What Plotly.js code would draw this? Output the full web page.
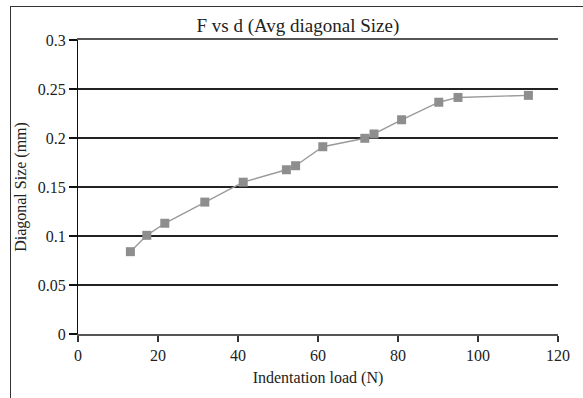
<!DOCTYPE html>
<html>
<head>
<meta charset="utf-8">
<script src="https://cdn.plot.ly/plotly-3.0.1.min.js"></script>
<style>
html,body{margin:0;padding:0;background:#fff;overflow:hidden;}
#wrap{position:relative;width:583px;height:398px;}
#frame{position:absolute;left:10px;top:6px;width:600px;height:420px;border-left:1px solid #333;border-top:1px solid #333;pointer-events:none;z-index:5;}
#chart{position:absolute;left:0;top:0;width:583px;height:398px;}
</style>
</head>
<body>
<div id="wrap"><div id="chart"></div><div id="frame"></div></div>
<script>
const loadN = [13.1, 17.2, 21.7, 31.7, 41.3, 52.1, 54.4, 61.2, 71.7, 74.0, 80.9, 90.2, 95.0, 112.6];
const diagMM = [0.084, 0.1007, 0.113, 0.1346, 0.1549, 0.1676, 0.1717, 0.1911, 0.1997, 0.2041, 0.2186, 0.2365, 0.2414, 0.2435];
const chartTitle = 'F vs d (Avg diagonal Size)';
const xTitle = 'Indentation load (N)';
const yTitle = 'Diagonal Size (mm)';

const font = {family: '"Liberation Serif", "Times New Roman", serif', color: '#222'};

Plotly.newPlot('chart', [{
  x: loadN, y: diagMM, type: 'scatter', mode: 'lines+markers',
  line: {color: '#9a9a9a', width: 1.4},
  marker: {symbol: 'square', size: 9, color: '#8e8e8e'},
  showlegend: false, hoverinfo: 'skip'
}], {
  width: 583, height: 398,
  paper_bgcolor: '#fff', plot_bgcolor: '#fff',
  margin: {l: 78, r: 25, t: 40, b: 64, pad: 0},
  font: Object.assign({size: 16}, font),
  title: {text: chartTitle, font: Object.assign({size: 19}, font), x: 0.458, xref: 'paper', xanchor: 'center', y: 0.952, yref: 'container', yanchor: 'top', automargin: false},
  xaxis: {
    range: [0, 120], dtick: 20, tick0: 0, showgrid: false, zeroline: false,
    showline: true, mirror: true, linecolor: '#555', linewidth: 2,
    ticks: 'outside', ticklen: 6, tickcolor: '#333', tickwidth: 1.3,
    tickfont: Object.assign({size: 16}, font),
    title: {text: xTitle, font: Object.assign({size: 16}, font), standoff: 9}
  },
  yaxis: {
    range: [0, 0.3], dtick: 0.05, tick0: 0, showgrid: true, gridcolor: '#222', gridwidth: 1.5,
    zeroline: false, showline: true, linecolor: '#111', linewidth: 1,
    ticks: 'outside', ticklen: 8, tickcolor: '#111', tickwidth: 1.3,
    tickfont: Object.assign({size: 16}, font),
    title: {text: yTitle, font: Object.assign({size: 16}, font), standoff: 7}
  }
}, {displayModeBar: false, staticPlot: true});
</script>
</body>
</html>
